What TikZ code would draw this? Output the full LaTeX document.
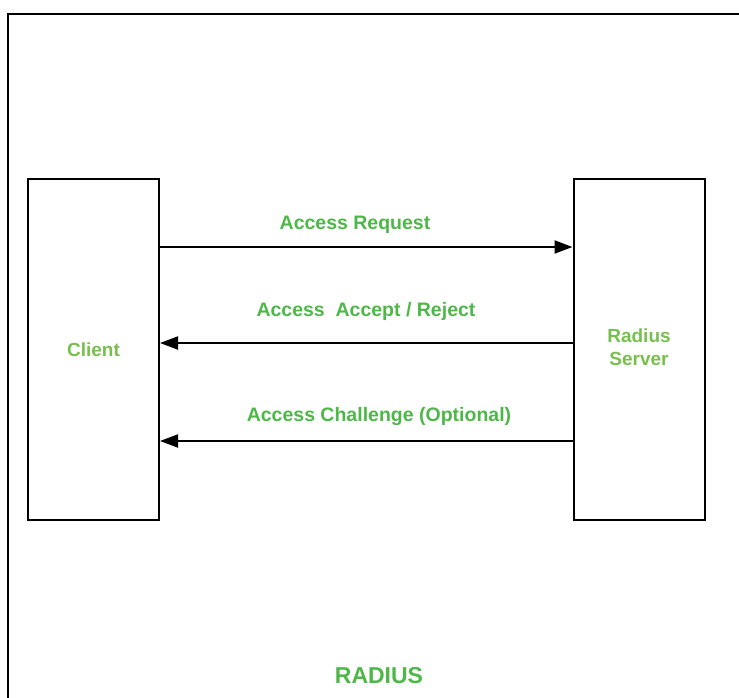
\documentclass[tikz,border=0pt]{standalone}
\usepackage{fontspec}
\setmainfont{Liberation Sans}
\usetikzlibrary{arrows.meta}
\definecolor{msggreen}{RGB}{77,184,72}
\definecolor{boxgreen}{RGB}{120,191,78}
\begin{document}
\begin{tikzpicture}[x=1pt,y=-1pt,
  party/.style={draw=black,line width=2pt,minimum width=131pt,minimum height=341pt,inner sep=0pt,
    font=\bfseries\fontsize{19}{23}\selectfont,text=boxgreen,align=center},
  msg/.style={font=\bfseries\fontsize{19.5}{23}\selectfont,text=msggreen,anchor=base},
  link/.style={line width=2pt,-{Triangle[length=18pt,width=13pt]}}]
  \useasboundingbox (0,0) rectangle (739,698);
  % outer frame, running past the right and bottom edges
  \draw[line width=2.8pt] (8,705) -- (8,14) -- (745,14);
  % the two parties
  \node[party] (client) at (93.5,349.5) {Client};
  \node[party] (server) at (639,349.5) {};
  \node[font=\bfseries\fontsize{19}{23}\selectfont,text=boxgreen,anchor=base,align=center] (srvname) at (639,365) {Radius\\Server};
  % messages
  \draw[link] ([yshift=102.5pt]client.east) -- ([yshift=102.5pt]server.west);
  \draw[link] ([yshift=6.5pt]server.west) -- ([yshift=6.5pt]client.east);
  \draw[link] ([yshift=-91.5pt]server.west) -- ([yshift=-91.5pt]client.east);
  \node[msg] (req) at (355,229) {Access Request};
  \node[msg] (acc) at (366,316.5) {Access\ \ Accept / Reject};
  \node[msg] (chal) at (379,421.5) {Access Challenge (Optional)};
  % caption
  \node[font=\bfseries\fontsize{23}{27}\selectfont,text=msggreen,anchor=base] (title) at (379,683) {RADIUS};
\end{tikzpicture}
\end{document}
